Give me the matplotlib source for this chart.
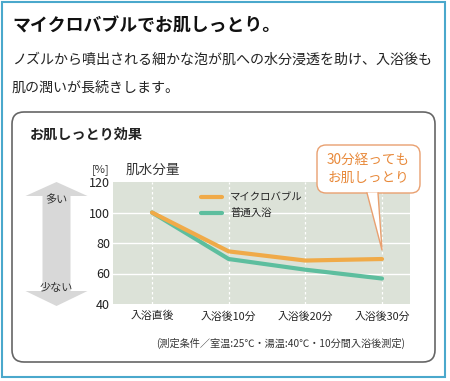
import matplotlib
matplotlib.use("Agg")
import matplotlib.pyplot as plt
from matplotlib.patches import Rectangle, FancyBboxPatch, Polygon

plt.rcParams['font.family'] = ['Noto Sans CJK JP', 'DejaVu Sans']

# データ
categories = ['入浴直後', '入浴後10分', '入浴後20分', '入浴後30分']
microbubble = [100, 74.5, 68.5, 69.5]
normal_bath = [100, 69.5, 62.5, 56.7]
series_names = ['マイクロバブル', '普通入浴']
yticks = [40, 60, 80, 100, 120]

ORANGE = '#F0AA48'
GREEN = '#5DBE9E'
CALLOUT = '#E8893A'

W, H = 450, 381
fig = plt.figure(figsize=(W / 100, H / 100), dpi=100)

# 背景用(ピクセル座標)
bg = fig.add_axes([0, 0, 1, 1], zorder=0)
bg.set_xlim(0, W)
bg.set_ylim(H, 0)
bg.axis('off')

bg.add_patch(Rectangle((2, 2), 443, 375, fill=False, ec='#4AA8CC', lw=1.5))
bg.add_patch(FancyBboxPatch((12, 112), 423, 250, boxstyle='round,pad=0,rounding_size=12',
                            fc='white', ec='#666666', lw=1.2))

bg.text(12, 27, 'マイクロバブルでお肌しっとり。', fontsize=12.9, fontweight='bold',
        color='#111111', va='center', ha='left')
bg.text(12, 60, 'ノズルから噴出される細かな泡が肌への水分浸透を助け、入浴後も',
        fontsize=10.1, color='#222222', va='center', ha='left')
bg.text(12, 88, '肌の潤いが長続きします。', fontsize=10.1, color='#222222',
        va='center', ha='left')
bg.text(30, 135, 'お肌しっとり効果', fontsize=10.2, fontweight='bold',
        color='#222222', va='center', ha='left')
bg.text(92, 170, '[%]', fontsize=8, color='#333333', va='center', ha='left')
bg.text(126, 170, '肌水分量', fontsize=9.8, color='#333333', va='center', ha='left')

# 多い/少ない の矢印
cx = 56.5
arrow_pts = [(cx, 182), (cx + 31, 196), (cx + 14, 196), (cx + 14, 291),
             (cx + 31, 291), (cx, 306), (cx - 31, 291), (cx - 14, 291),
             (cx - 14, 196), (cx - 31, 196)]
bg.add_patch(Polygon(arrow_pts, closed=True, fc='#D8D8D8', ec='none'))
bg.text(cx, 200, '多い', fontsize=8, color='#333333', ha='center', va='center')
bg.text(cx, 288, '少ない', fontsize=8, color='#333333', ha='center', va='center')

bg.text(405, 343, '(測定条件／室温:25℃・湯温:40℃・10分間入浴後測定)',
        fontsize=7.3, color='#333333', ha='right', va='center')

# グラフ本体
ax = fig.add_axes([113 / W, 1 - 304 / H, 297 / W, 122 / H], zorder=1)
ax.set_facecolor('#DCE2D8')
x = list(range(len(categories)))
ax.plot(x, normal_bath, color=GREEN, lw=3, solid_capstyle='round', zorder=3)
ax.plot(x, microbubble, color=ORANGE, lw=3, solid_capstyle='round', zorder=4)
ax.set_xlim(-0.509, 3.365)
ax.set_ylim(40, 120)
ax.set_yticks(yticks)
ax.set_xticks(x)
ax.set_xticklabels(categories, fontsize=7.8, color='#222222')
ax.set_yticklabels([str(v) for v in yticks], fontsize=9, color='#222222')
ax.tick_params(length=0, pad=2)
ax.tick_params(axis='x', pad=5)
for s in ax.spines.values():
    s.set_visible(False)
for v in yticks[1:-1]:
    ax.axhline(v, color='white', lw=1, zorder=1)
for xi in x:
    ax.axvline(xi, color='white', lw=0.9, ls=(0, (2, 2)), zorder=1)

# 凡例と吹き出し(上に重ねる)
ov = fig.add_axes([0, 0, 1, 1], zorder=2)
ov.set_xlim(0, W)
ov.set_ylim(H, 0)
ov.axis('off')
ov.patch.set_alpha(0)

for yy, col, name in [(197, ORANGE, series_names[0]), (213, GREEN, series_names[1])]:
    ov.plot([201, 222], [yy, yy], color=col, lw=3, solid_capstyle='round')
    ov.text(230, yy, name, fontsize=7.5, color='#222222', va='center', ha='left')

ov.add_patch(FancyBboxPatch((317, 145), 103, 48, boxstyle='round,pad=0,rounding_size=9',
                            fc='white', ec='#E9A070', lw=1))
tail = [(367, 192.5), (378, 192.5), (382, 250)]
ov.add_patch(Polygon(tail, closed=True, fc='white', ec='none', zorder=3))
ov.plot([367, 382, 378], [193, 250, 193], color='#E9A070', lw=1, zorder=4)
ov.text(368.5, 160, '30分経っても', fontsize=9.8, color=CALLOUT, ha='center', va='center')
ov.text(368.5, 178, 'お肌しっとり', fontsize=9.8, color=CALLOUT, ha='center', va='center')

fig.savefig('out.png', dpi=100)
